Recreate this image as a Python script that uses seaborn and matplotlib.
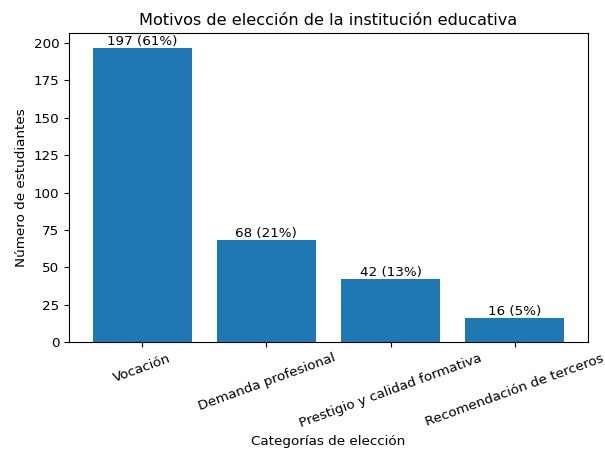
import matplotlib
matplotlib.use("Agg")
import matplotlib.pyplot as plt
import seaborn as sns
import pandas as pd

# Datos
categorias = ["Vocación", "Demanda profesional", "Prestigio y calidad formativa",
              "Recomendación de terceros"]
estudiantes = [197, 68, 42, 16]
porcentajes = [61, 21, 13, 5]

df = pd.DataFrame({"categoria": categorias, "n": estudiantes})

# la imagen original parece un poco reducida, así que bajamos las fuentes
plt.rcParams["font.size"] = 9.7

fig, ax = plt.subplots(figsize=(6.05, 4.51), dpi=100)
fig.subplots_adjust(left=0.114, right=0.972, top=0.927, bottom=0.242)

sns.barplot(data=df, x="categoria", y="n", color="#1f77b4", saturation=1,
            width=0.8, ax=ax)

etiquetas = [f"{n} ({p}%)" for n, p in zip(estudiantes, porcentajes)]
ax.bar_label(ax.containers[0], labels=etiquetas, fontsize=9.7)

ax.set_title("Motivos de elección de la institución educativa", fontsize=11.6)
ax.set_xlabel("Categorías de elección")
ax.set_ylabel("Número de estudiantes")
ax.set_xlim(-0.59, 3.59)
ax.set_ylim(0, 197 * 1.05)
ax.set_yticks(range(0, 201, 25))
plt.setp(ax.get_xticklabels(), rotation=20)

fig.savefig("out.png", dpi=100)
